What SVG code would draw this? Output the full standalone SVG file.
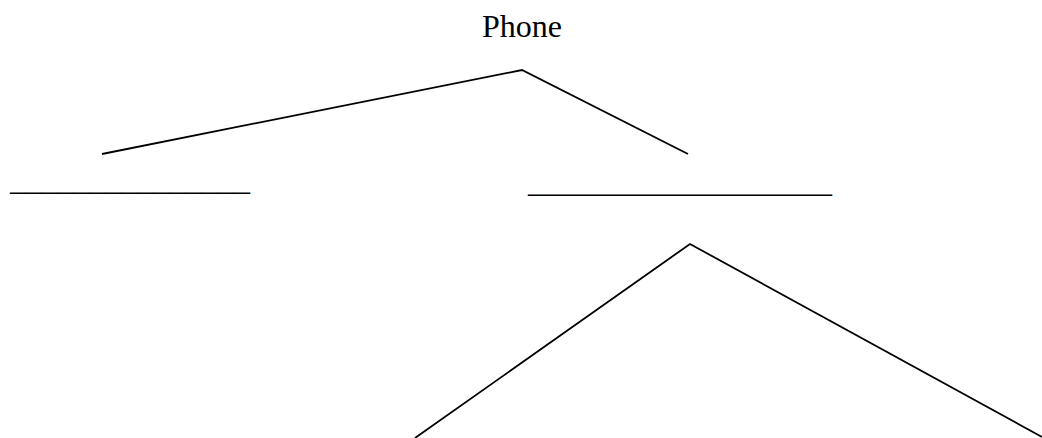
<svg xmlns="http://www.w3.org/2000/svg" width="1042" height="438" viewBox="0 0 1042 438">
  <style>
    .label { font-family: "Liberation Serif", "Times New Roman", serif; font-size: 32px; fill: #000; }
    .edge { stroke: #000; stroke-width: 1.8; fill: none; stroke-linecap: butt; }
  </style>
  <rect width="1042" height="438" fill="#fff"/>
  <g id="connectors">
    <polyline class="edge" points="102,154 522,70 688,154"/>
    <polyline class="edge" points="415,438 690,244 1042,437"/>
  </g>
  <g id="node-root">
    <text class="label" x="522" y="37" text-anchor="middle">Phone</text>
  </g>
  <g id="node-left">
    <text class="label" x="10" y="189.5">_______________</text>
  </g>
  <g id="node-right">
    <text class="label" x="528" y="191.5">___________________</text>
  </g>
</svg>
